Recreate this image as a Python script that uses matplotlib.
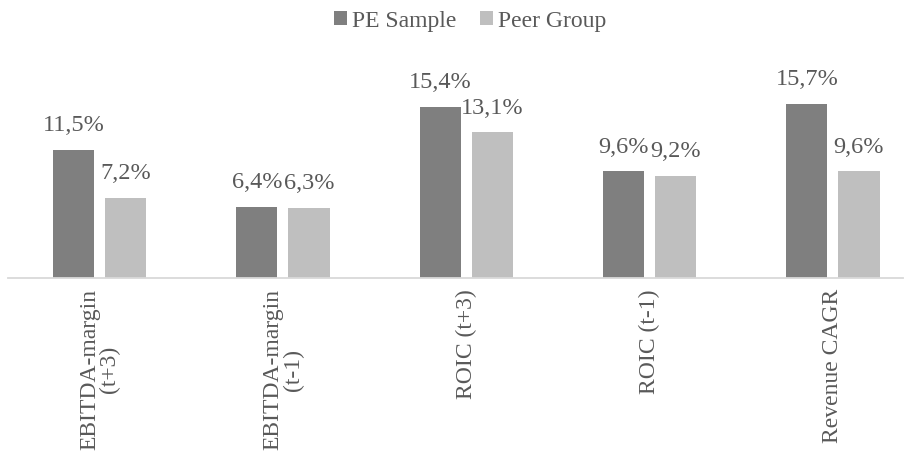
import matplotlib
matplotlib.use("Agg")
import matplotlib.pyplot as plt
from matplotlib.patches import Patch
import numpy as np

categories = ["EBITDA-margin\n(t+3)", "EBITDA-margin\n(t-1)", "ROIC (t+3)", "ROIC (t-1)", "Revenue CAGR"]
pe_sample = [11.5, 6.4, 15.4, 9.6, 15.7]
peer_group = [7.2, 6.3, 13.1, 9.2, 9.6]
series_names = ["PE Sample", "Peer Group"]

plt.rcParams["font.family"] = ["Liberation Serif", "DejaVu Serif"]
text_color = "#595959"
colors = ["#7f7f7f", "#bfbfbf"]

W, H = 908, 457
fig = plt.figure(figsize=(W / 100, H / 100), dpi=100)

left_px, right_px = 8, 924.6
base_px, top_px = 278, 78
ax = fig.add_axes([left_px / W, 1 - base_px / H, (right_px - left_px) / W, (base_px - top_px) / H])

x = np.arange(len(categories))
bw = 0.224
off = 0.142
for vals, dx, c in [(pe_sample, -off, colors[0]), (peer_group, off, colors[1])]:
    bars = ax.bar(x + dx, vals, width=bw, color=c, zorder=2)
    for b, v in zip(bars, vals):
        ax.annotate(f"{v:.1f}%".replace(".", ","),
                    (b.get_x() + b.get_width() / 2, v),
                    xytext=(0, 13.5), textcoords="offset points",
                    ha="center", va="baseline", fontsize=17.5, color=text_color)

ax.set_xlim(-0.5, len(categories) - 0.5)
ax.set_ylim(0, 18)
ax.set_yticks([])
for s in ["top", "right", "left"]:
    ax.spines[s].set_visible(False)
ax.spines["bottom"].set_color("#d9d9d9")
ax.spines["bottom"].set_linewidth(1.3)
ax.spines["bottom"].set_bounds(-0.5, (903 - left_px) / ((right_px - left_px) / 5) - 0.5)

ax.set_xticks(x)
ax.set_xticklabels(categories, rotation=90, fontsize=17, color=text_color,
                   ha="center", va="top", multialignment="center", linespacing=0.95)
ax.tick_params(axis="x", length=0, pad=8)

handles = [Patch(facecolor=c, edgecolor="none") for c in colors]
fig.legend(handles, series_names, loc="center", bbox_to_anchor=(470 / W, 1 - 21 / H),
           ncol=2, frameon=False, fontsize=17, labelcolor=text_color,
           handlelength=0.55, handleheight=0.55, handletextpad=0.2, columnspacing=1.0)

fig.savefig("out.png", dpi=100)
